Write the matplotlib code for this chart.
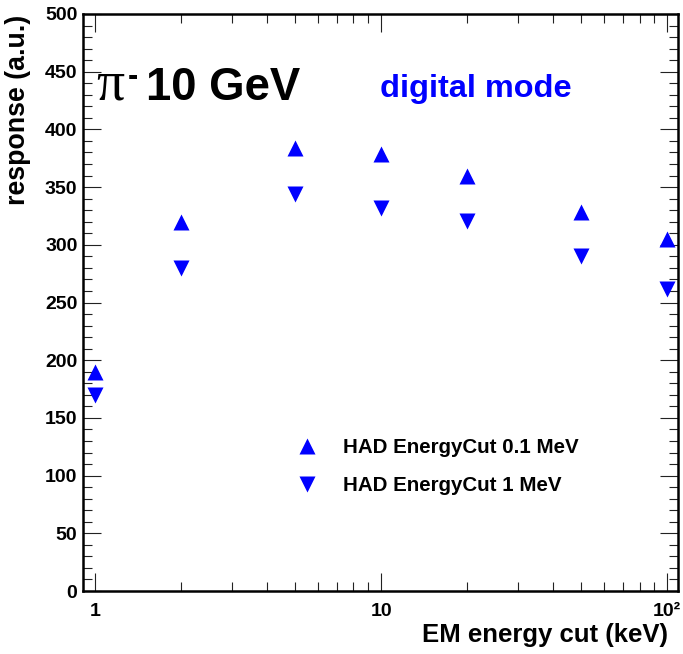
import matplotlib.pyplot as plt
from matplotlib.ticker import MultipleLocator, FixedLocator, FixedFormatter, NullFormatter

plt.rcParams['font.family'] = ['Liberation Sans', 'DejaVu Sans']
plt.rcParams['font.weight'] = 'bold'

em_cut = [1, 2, 5, 10, 20, 50, 100]
resp_had_01 = [190, 320, 384, 379, 360, 328, 305]
resp_had_1 = [170, 280, 344, 332, 321, 290, 262]

W, H = 683, 654
fig = plt.figure(figsize=(W / 100, H / 100), dpi=100)
ax = fig.add_axes([83 / W, 1 - 591 / H, (678 - 83) / W, (591 - 14) / H])

ax.plot(em_cut, resp_had_01, ls='none', marker='^', ms=11.5, color='#0000ff',
        mec='none', label='HAD EnergyCut 0.1 MeV', clip_on=False)
ax.plot(em_cut, resp_had_1, ls='none', marker='v', ms=11.5, color='#0000ff',
        mec='none', label='HAD EnergyCut 1 MeV', clip_on=False)

ax.set_xscale('log')
ax.set_xlim(0.908, 109)
ax.set_ylim(0, 500)

ax.xaxis.set_major_locator(FixedLocator([1, 10, 100]))
ax.xaxis.set_major_formatter(FixedFormatter(['1', '10', '10²']))
ax.xaxis.set_minor_locator(FixedLocator([2, 3, 4, 5, 6, 7, 8, 9, 20, 30, 40, 50, 60, 70, 80, 90]))
ax.xaxis.set_minor_formatter(NullFormatter())
ax.yaxis.set_major_locator(MultipleLocator(50))
ax.yaxis.set_minor_locator(MultipleLocator(10))

ax.tick_params(which='both', direction='in', top=True, right=True, width=0.8,
               labelsize=14, colors='#222222', labelcolor='black')
ax.tick_params(which='major', length=13)
ax.tick_params(which='minor', length=6.5)
ax.tick_params(axis='x', pad=9)
ax.tick_params(axis='y', pad=4)
for lab in ax.get_xticklabels() + ax.get_yticklabels():
    lab.set_fontweight('bold')
for s in ax.spines.values():
    s.set_linewidth(1.8)

fig.text(668 / W, 1 - 642 / H, 'EM energy cut (keV)', ha='right', va='baseline',
         fontsize=18.5, fontweight='bold')
fig.text(18 / W, 1 - 15 / H, 'response (a.u.)', ha='center', va='top',
         rotation=90, fontsize=19.3, fontweight='bold')

fig.text(96 / W, 1 - 100 / H, 'π', fontsize=40, family=['Liberation Serif'],
         fontweight='normal', ha='left', va='baseline')
fig.text(128 / W, 1 - 77 / H, '-', fontsize=22, fontweight='bold',
         ha='left', va='center')
fig.text(146 / W, 1 - 100 / H, '10 GeV', fontsize=32.8, fontweight='bold',
         ha='left', va='baseline')
fig.text(380 / W, 1 - 97 / H, 'digital mode', fontsize=23.4, fontweight='bold',
         color='#0000ff', ha='left', va='baseline')

ax.legend(loc='upper left', bbox_to_anchor=(281 / W, 1 - 428 / H),
          bbox_transform=fig.transFigure, frameon=False, fontsize=14.8,
          handletextpad=1.0, labelspacing=0.9, markerscale=1.0,
          handlelength=1.5, borderpad=0)

fig.savefig('out.png', dpi=100)
